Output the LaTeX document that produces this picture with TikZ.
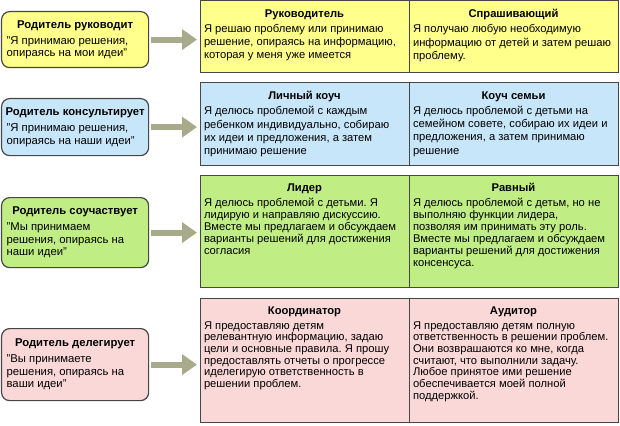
\documentclass[tikz,border=0pt]{standalone}
\usepackage{fontspec}
\setmainfont{Liberation Sans}
\usetikzlibrary{arrows.meta,positioning}
\frenchspacing
\definecolor{ylw}{RGB}{255,255,140}
\definecolor{blu}{RGB}{200,230,250}
\definecolor{grn}{RGB}{192,238,132}
\definecolor{pnk}{RGB}{250,216,216}
\definecolor{edge}{RGB}{70,70,70}
\definecolor{arrw}{RGB}{168,170,140}
\newlength{\headgap}
\newcommand{\celltext}[4]{\parbox[t][#1][t]{201pt}{\fontsize{11.2}{#2}\selectfont\raggedright
    \setlength{\headgap}{15pt}\addtolength{\headgap}{-#2}%
    \vspace*{8.5pt}\makebox[\linewidth]{\bfseries #3}\par\vspace{\headgap}%
    \begin{tabular}[t]{@{}l@{}}#4\end{tabular}}}
\newcommand{\boxtext}[2]{\parbox{137pt}{\fontsize{11.3}{12.5}\selectfont\raggedright\makebox[\linewidth]{\bfseries #1}\par\vspace{3.5pt}#2}}

\begin{document}
\begin{tikzpicture}[x=1pt,y=-1pt]
    \tikzset{
        >={Triangle[length=15pt,width=20pt]},
        cell/.style={draw=edge, line width=1pt, outer sep=0pt, inner xsep=4pt, inner ysep=0pt, anchor=north west},
        role/.style={draw=edge, line width=1.2pt, rounded corners=8pt, inner xsep=5pt, inner ysep=3pt, anchor=north west, minimum width=147pt},
        push/.style={->, draw=arrw, line width=6pt, shorten <=2pt, shorten >=3pt}
    }
    \useasboundingbox (0,0) rectangle (620,425);
    % parent roles
    \node[role, fill=ylw, minimum height=56pt] (lead) at (1,11) {\boxtext{Родитель руководит}{"Я принимаю решения,\\опираясь на мои идеи"}};
    \node[role, fill=blu, minimum height=57pt] (consult) at (1,98) {\boxtext{Родитель консультирует}{"Я принимаю решения,\\опираясь на наши идеи"}};
    \node[role, fill=grn, minimum height=70pt] (share) at (1,197) {\boxtext{Родитель соучаствует}{"Мы принимаем\\решения, опираясь на\\наши идеи"}};
    \node[role, fill=pnk, minimum height=72pt] (deleg) at (1,328) {\boxtext{Родитель делегирует}{"Вы принимаете\\решения, опираясь на\\ваши идеи"}};
    % table rows
    \node[cell, fill=ylw] (r1a) at (200,1) {\celltext{72pt}{13.3pt}{Руководитель}{Я решаю проблему или принимаю\\решение, опираясь на информацию,\\которая у меня уже имеется}};
    \node[cell, fill=ylw] (r1b) at (r1a.north east) {\celltext{72pt}{13.3pt}{Спрашивающий}{Я получаю любую необходимую\\информацию от детей и затем решаю\\проблему.}};
    \node[cell, fill=blu] (r2a) at (200,83) {\celltext{82pt}{13.3pt}{Личный коуч}{Я делюсь проблемой с каждым\\ребенком индивидуально, собираю\\их идеи и предложения, а затем\\принимаю решение}};
    \node[cell, fill=blu] (r2b) at (r2a.north east) {\celltext{82pt}{13.3pt}{Коуч семьи}{Я делюсь проблемой с детьми на\\семейном совете, собираю их идеи и\\предложения, а затем принимаю\\решение}};
    \node[cell, fill=grn] (r3a) at (200,175) {\celltext{112pt}{12pt}{Лидер}{Я делюсь проблемой с детьми. Я\\лидирую и направляю дискуссию.\\Вместе мы предлагаем и обсуждаем\\варианты решений для достижения\\согласия}};
    \node[cell, fill=grn] (r3b) at (r3a.north east) {\celltext{112pt}{12pt}{Равный}{Я делюсь проблемой с детьм, но не\\выполняю функции лидера,\\позволяя им принимать эту роль.\\Вместе мы предлагаем и обсуждаем\\варианты решений для достижения\\консенсуса.}};
    \node[cell, fill=pnk] (r4a) at (200,298) {\celltext{124pt}{11.6pt}{Координатор}{Я предоставляю детям\\релевантную информацию, задаю\\цели и основные правила. Я прошу\\предоставлять отчеты о прогрессе\\иделегирую ответственность в\\решении проблем.}};
    \node[cell, fill=pnk] (r4b) at (r4a.north east) {\celltext{124pt}{11.6pt}{Аудитор}{Я предоставляю детям полную\\ответственность в решении проблем.\\Они возврашаются ко мне, когда\\считают, что выполнили задачу.\\Любое принятое ими решение\\обеспечивается моей полной\\поддержкой.}};
    % arrows
    \draw[push] (lead.east) -- (lead.east -| r1a.west);
    \draw[push] (consult.east) -- (consult.east -| r2a.west);
    \draw[push] (share.east) -- (share.east -| r3a.west);
    \draw[push] (deleg.east) -- (deleg.east -| r4a.west);
\end{tikzpicture}
\end{document}
